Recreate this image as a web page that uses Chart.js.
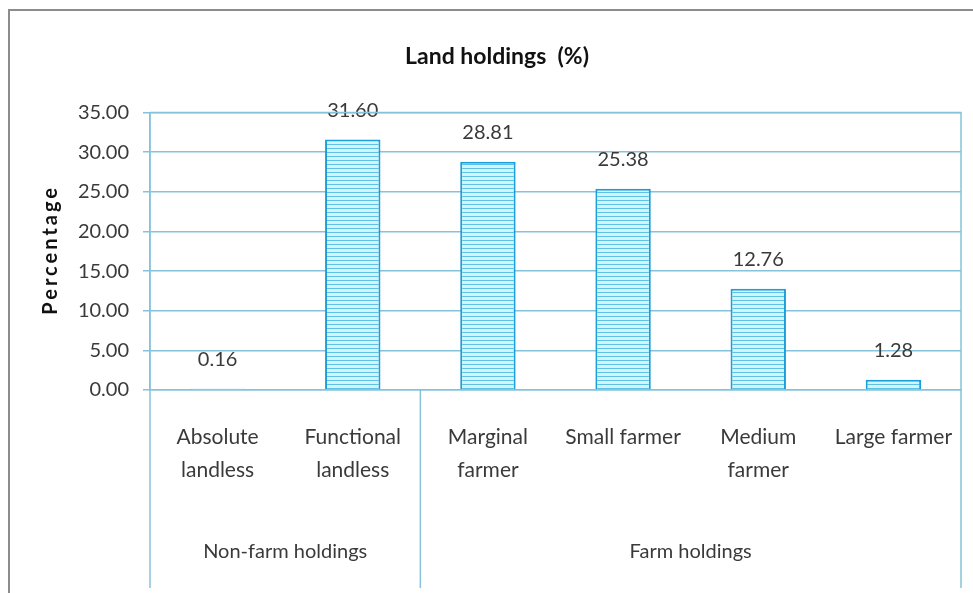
<!DOCTYPE html>
<html>
<head>
<meta charset="utf-8">
<script src="https://cdn.jsdelivr.net/npm/chart.js@4/dist/chart.umd.min.js"></script>
<style>
  html, body { margin: 0; padding: 0; background: #fff; overflow: hidden; }
  #wrap { position: relative; width: 973px; height: 593px; overflow: hidden; }
  #myChart { display: block; }
  #frame {
    position: absolute; left: 8px; top: 9px; width: 990px; height: 600px;
    border: 2px solid #8c8c8c; pointer-events: none;
  }
</style>
</head>
<body>
<div id="wrap">
  <canvas id="myChart" width="973" height="593"></canvas>
  <div id="frame"></div>
</div>
<script>
const categories = [
  ["Absolute", "landless"],
  ["Functional", "landless"],
  ["Marginal", "farmer"],
  "Small farmer",
  ["Medium", "farmer"],
  "Large farmer"
];
const values = [0.16, 31.60, 28.81, 25.38, 12.76, 1.28];
const groups = ["Non-farm holdings", "Farm holdings"];
const groupSizes = [2, 4];
const yTicks = [0, 5, 10, 15, 20, 25, 30, 35];

const FONT = "Lato, 'Noto Sans', sans-serif";
const TEXT = "#3a3a3a";
const LINE = "#86c3da";

// striped fill for the bars
function makeStripes() {
  let c = document.createElement("canvas");
  c.width = 4;
  c.height = 4;
  let g = c.getContext("2d");
  g.fillStyle = "#d3f4fd";
  g.fillRect(0, 0, 4, 4);
  g.fillStyle = "#5cc1e4";
  g.fillRect(0, 0, 4, 1);
  return g.createPattern(c, "repeat");
}

// value labels above the bars
const valueLabels = {
  id: "valueLabels",
  afterDatasetsDraw(chart) {
    const ctx = chart.ctx;
    const meta = chart.getDatasetMeta(0);
    ctx.save();
    ctx.font = "20px " + FONT;
    ctx.fillStyle = TEXT;
    ctx.textAlign = "center";
    ctx.textBaseline = "middle";
    meta.data.forEach(function (bar, i) {
      ctx.fillText(values[i].toFixed(2), bar.x, bar.y - 29);
    });
    ctx.restore();
  }
};

// plot frame, group separators, group captions and the y title
const groupAxis = {
  id: "groupAxis",
  afterDraw(chart) {
    const ctx = chart.ctx;
    const area = chart.chartArea;
    const x = chart.scales.x;
    const half = (x.getPixelForValue(1) - x.getPixelForValue(0)) / 2;
    const bottom = 588;
    ctx.save();
    ctx.strokeStyle = LINE;
    ctx.lineWidth = 1.5;
    ctx.beginPath();
    ctx.moveTo(area.left, area.top);
    ctx.lineTo(area.right, area.top);
    ctx.lineTo(area.right, bottom);
    ctx.moveTo(area.left, area.top);
    ctx.lineTo(area.left, bottom);
    ctx.stroke();

    ctx.font = "20px " + FONT;
    ctx.fillStyle = TEXT;
    ctx.textAlign = "center";
    ctx.textBaseline = "middle";
    let start = 0;
    groupSizes.forEach(function (n, gi) {
      const x0 = x.getPixelForValue(start) - half;
      const x1 = x.getPixelForValue(start + n - 1) + half;
      if (gi > 0) {
        ctx.beginPath();
        ctx.moveTo(x0, area.bottom);
        ctx.lineTo(x0, bottom);
        ctx.stroke();
      }
      ctx.fillText(groups[gi], (x0 + x1) / 2, 552);
      start += n;
    });

    ctx.translate(51, (area.top + area.bottom) / 2);
    ctx.rotate(-Math.PI / 2);
    ctx.font = "bold 20px " + FONT;
    ctx.fillStyle = "#111";
    ctx.letterSpacing = "3px";
    ctx.fillText("Percentage", 1.5, 0);
    ctx.restore();
  }
};

const data = {
  labels: categories,
  datasets: [
    {
      label: "Land holdings (%)",
      data: values,
      backgroundColor: makeStripes(),
      borderColor: "#1c9fd8",
      borderWidth: 2,
      barPercentage: 0.41,
      categoryPercentage: 1.0
    }
  ]
};

const config = {
  type: "bar",
  data: data,
  options: {
    responsive: false,
    animation: false,
    layout: { padding: { left: 33, right: 12, top: 0, bottom: 0 } },
    plugins: {
      legend: { display: false },
      tooltip: { enabled: false },
      title: {
        display: true,
        text: "Land holdings  (%)",
        color: "#111",
        font: { family: FONT, size: 23, weight: "bold" },
        padding: { top: 43, bottom: 42 }
      }
    },
    scales: {
      x: {
        grid: { display: false, drawTicks: false },
        border: { display: true, color: LINE, width: 1.5 },
        ticks: {
          color: TEXT,
          font: { family: FONT, size: 21, lineHeight: 1.55 },
          padding: 31,
          maxRotation: 0,
          autoSkip: false
        },
        afterFit: function (s) {
          s.height = 203;
          s.paddingLeft = 0;
          s.paddingRight = 0;
        }
      },
      y: {
        min: 0,
        max: 35,
        afterBuildTicks: function (s) {
          s.ticks = yTicks.map(function (v) { return { value: v }; });
        },
        grid: { color: LINE, lineWidth: 1.5, tickLength: 7 },
        border: { display: true, color: LINE, width: 1.5 },
        ticks: {
          color: TEXT,
          font: { family: FONT, size: 20 },
          padding: 14,
          callback: function (v) { return Number(v).toFixed(2); }
        },
        afterFit: function (s) { s.width = 117; }
      }
    }
  },
  plugins: [valueLabels, groupAxis]
};

let myChart = new Chart(document.getElementById("myChart"), config);
</script>
</body>
</html>
